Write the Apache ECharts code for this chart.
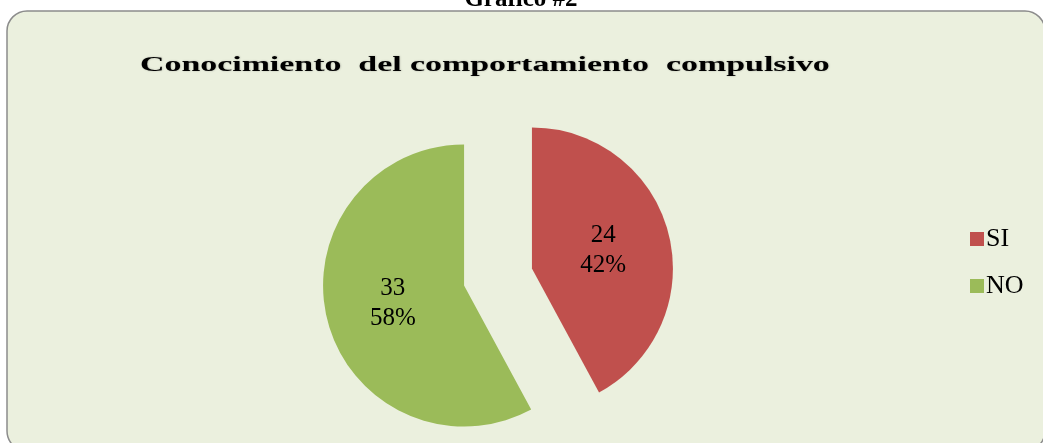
<!DOCTYPE html>
<html>
<head>
<meta charset="utf-8">
<script src="https://cdn.jsdelivr.net/npm/echarts@6/dist/echarts.min.js"></script>
<style>
  html, body { margin: 0; padding: 0; background: #fff; }
  #chart { width: 1043px; height: 443px; }
</style>
</head>
<body>
<div id="chart"></div>
<script>
// datos del gráfico
var categorias = ['SI', 'NO'];
var valores = [24, 33];
var colores = ['#C0504D', '#9BBB59'];
var titulo = 'Conocimiento  del comportamiento  compulsivo';
var encabezado = 'Gráfico #2';

var myChart = echarts.init(document.getElementById('chart'));

var datos = categorias.map(function (c, i) {
    return { name: c, value: valores[i], selected: true, itemStyle: { color: colores[i] } };
});

var option = {
    backgroundColor: '#ffffff',
    animation: false,
    graphic: [
        {
            type: 'rect',
            z: -10,
            shape: { x: 7, y: 11, width: 1038, height: 440, r: 20 },
            style: { fill: '#EBF0DE', stroke: '#8C8C8C', lineWidth: 1.5 }
        },
        {
            type: 'text',
            x: 521,
            y: 12,
            style: {
                text: encabezado,
                fill: '#000',
                font: 'bold 25px "Liberation Serif", "Times New Roman", serif',
                textAlign: 'center',
                textVerticalAlign: 'bottom'
            }
        },
        {
            type: 'text',
            x: 140,
            y: 65,
            scaleX: 1.54,
            style: {
                text: titulo,
                fill: '#000',
                font: 'bold 22px "Liberation Serif", "Times New Roman", serif',
                textAlign: 'left',
                textVerticalAlign: 'middle',
                textShadowColor: 'rgba(0,0,0,0.25)',
                textShadowBlur: 2,
                textShadowOffsetX: 0.5,
                textShadowOffsetY: 0.5
            }
        }
    ],
    legend: {
        orient: 'vertical',
        left: 970,
        top: 226,
        padding: 0,
        icon: 'rect',
        itemWidth: 14,
        itemHeight: 14,
        itemGap: 21,
        selectedMode: false,
        data: categorias,
        textStyle: {
            fontFamily: '"Liberation Serif", "Times New Roman", serif',
            fontSize: 26,
            lineHeight: 24,
            color: '#000',
            padding: [0, 0, 0, -3]
        }
    },
    series: [
        {
            type: 'pie',
            center: [498, 277],
            radius: [0, 141],
            startAngle: 90,
            clockwise: true,
            selectedMode: 'multiple',
            selectedOffset: 35,
            label: {
                show: true,
                position: 'inside',
                formatter: function (p) {
                    return p.value + '\n' + Math.round(p.percent) + '%';
                },
                fontFamily: '"Liberation Serif", "Times New Roman", serif',
                fontSize: 25,
                lineHeight: 30,
                color: '#000'
            },
            labelLine: { show: false },
            emphasis: { disabled: true },
            data: datos
        }
    ]
};

myChart.setOption(option);
</script>
</body>
</html>
